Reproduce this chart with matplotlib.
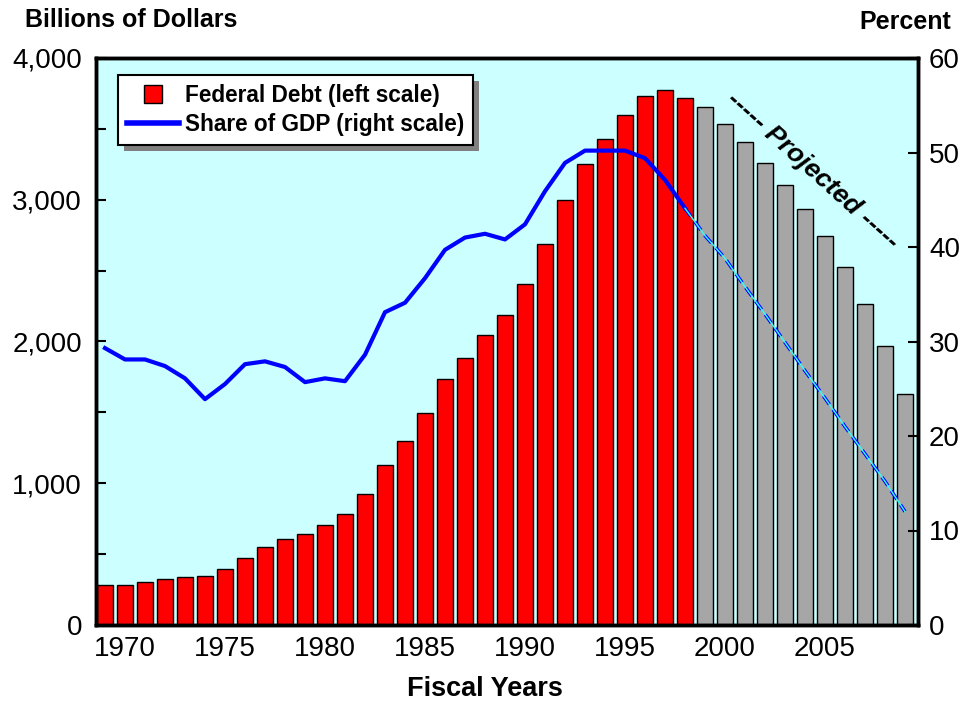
import matplotlib
matplotlib.use('Agg')
import matplotlib.pyplot as plt
from matplotlib.patches import Rectangle
from matplotlib.lines import Line2D

plt.rcParams['font.family'] = ['Liberation Sans', 'DejaVu Sans']

# federal debt held by the public, billions of dollars
years_hist = list(range(1969, 1999))
debt_hist = [279, 285, 301, 324, 342, 344, 397, 476, 548, 609, 639, 708, 785, 921, 1131,
             1299, 1498, 1738, 1887, 2049, 2190, 2409, 2688, 2999, 3250, 3428, 3601, 3734, 3771, 3720]
years_proj = list(range(1999, 2010))
debt_proj = [3654, 3532, 3407, 3260, 3104, 2933, 2744, 2528, 2264, 1970, 1630]

# share of GDP, percent
gdp_hist = [29.3, 28.1, 28.1, 27.4, 26.1, 23.9, 25.5, 27.6, 27.9, 27.3, 25.7, 26.1, 25.8, 28.6, 33.1,
            34.1, 36.7, 39.7, 41.0, 41.4, 40.8, 42.4, 45.9, 48.9, 50.2, 50.2, 50.2, 49.4, 47.1, 44.1]
years_gdp_proj = list(range(1998, 2010))
gdp_proj = [44.1, 41.2, 38.8, 35.8, 32.9, 29.9, 26.9, 24.0, 21.0, 18.1, 15.2, 12.0]

x_ticks = [1970, 1975, 1980, 1985, 1990, 1995, 2000, 2005]
left_ticks = [0, 1000, 2000, 3000, 4000]
right_ticks = [0, 10, 20, 30, 40, 50, 60]

W, H = 966, 704
fig = plt.figure(figsize=(W / 100, H / 100), dpi=100)
ax = fig.add_axes([96 / W, 1 - 625 / H, (918 - 96) / W, (625 - 58) / H])
ax.set_facecolor('#CCFFFF')

ax.bar(years_hist, debt_hist, width=0.76, color='#FF0000', edgecolor='black', linewidth=1, zorder=2)
ax.bar(years_proj, debt_proj, width=0.76, color='#A6A6A6', edgecolor='black', linewidth=1, zorder=2)
ax.set_xlim(1968.55, 2009.65)
ax.set_ylim(0, 4000)
ax.set_xticks(x_ticks)
ax.set_yticks(left_ticks)
ax.set_yticklabels([f'{v:,}' for v in left_ticks])
ax.set_yticks([500, 1500, 2500, 3500], minor=True)
ax.tick_params(axis='x', length=0, labelsize=20, pad=8)
ax.tick_params(axis='y', which='both', direction='in', length=7, width=1.5, labelsize=20, pad=10)

ax2 = ax.twinx()
ax2.plot(years_hist, gdp_hist, color='#0000FF', lw=3, solid_joinstyle='round', zorder=3)
ax2.plot(years_gdp_proj, gdp_proj, color='#0000FF', lw=2.5, ls=(0, (3, 1.8)), zorder=3)
ax2.plot(years_gdp_proj, gdp_proj, color='#33FFFF', lw=1, zorder=4)
ax2.set_ylim(0, 60)
ax2.set_yticks(right_ticks)
ax2.tick_params(axis='y', direction='in', length=7, width=1.5, labelsize=20, pad=8)

for a in (ax, ax2):
    for s in a.spines.values():
        s.set_linewidth(2.5)

fig.text(25 / W, 1 - 20 / H, 'Billions of Dollars', fontsize=18, fontweight='bold', ha='left', va='center')
fig.text(905 / W, 1 - 22 / H, 'Percent', fontsize=18, fontweight='bold', ha='center', va='center')
fig.text(485 / W, 1 - 689 / H, 'Fiscal Years', fontsize=19.5, fontweight='bold', ha='center', va='center')
fig.text(813 / W, 1 - 170 / H, '----- Projected -----', fontsize=19, fontweight='bold', style='italic',
         rotation=-42, ha='center', va='center', rotation_mode='anchor')

handles = [Line2D([], [], marker='s', color='none', markerfacecolor='#FF0000', markeredgecolor='black',
                  markersize=13),
           Line2D([], [], color='#0000FF', lw=4)]
leg = fig.legend(handles, ['Federal Debt (left scale)', 'Share of GDP (right scale)'],
                 loc='upper left', bbox_to_anchor=(118 / W, 1 - 75 / H), bbox_transform=fig.transFigure,
                 prop={'size': 16.3, 'weight': 'bold'}, fancybox=False, edgecolor='black', framealpha=1,
                 handlelength=2.3, handletextpad=0.25, borderpad=0.4, labelspacing=0.25, borderaxespad=0)
leg.get_frame().set_linewidth(1.5)
leg.set_zorder(10)

# drop shadow behind the legend box
fig.canvas.draw()
bb = leg.get_window_extent()
inv = fig.transFigure.inverted()
(x0, y0), (x1, y1) = inv.transform([(bb.x0 + 6, bb.y0 - 6), (bb.x1 + 6, bb.y1 - 6)])
fig.add_artist(Rectangle((x0, y0), x1 - x0, y1 - y0, transform=fig.transFigure,
                         facecolor='#808080', edgecolor='none', zorder=9))

fig.savefig('out.png', dpi=100)
